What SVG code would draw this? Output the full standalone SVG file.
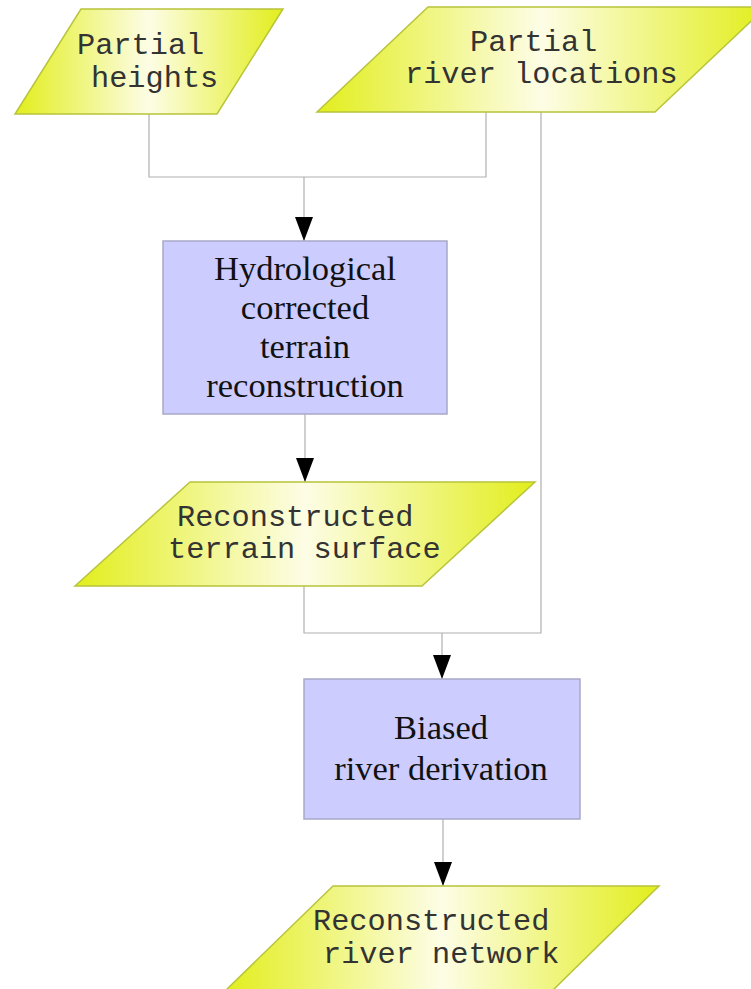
<svg xmlns="http://www.w3.org/2000/svg" width="751" height="989" viewBox="0 0 751 989">
<defs>
<linearGradient id="yg" x1="0" y1="0" x2="1" y2="0">
<stop offset="0" stop-color="#e2ee1c"/>
<stop offset="0.5" stop-color="#fdfde6"/>
<stop offset="1" stop-color="#e2ee1c"/>
</linearGradient>
<marker id="arr" markerWidth="24" markerHeight="18" refX="24" refY="9" orient="auto" markerUnits="userSpaceOnUse" viewBox="0 0 24 18">
<path d="M0,0 L24,9 L0,18 Z" fill="#000"/>
</marker>
</defs>
<style>
.io{fill:url(#yg);stroke:#b8c43a;stroke-width:1.5}
.proc{fill:#ccccff;stroke:#a8a8c8;stroke-width:1.5}
.mono{font-family:"Liberation Mono","Courier New",monospace;font-size:30.3px;fill:#333}
.serif{font-family:"Liberation Serif","Times New Roman",serif;font-size:34.5px;fill:#111;text-anchor:middle}
.ln{fill:none;stroke:#b0b0b0;stroke-width:1.2}
.ar{fill:none;stroke:#b0b0b0;stroke-width:1.2;marker-end:url(#arr)}
</style>
<g id="connectors">
<polyline class="ln" points="149,114 149,177 486,177 486,112"/>
<line class="ar" x1="304" y1="177" x2="304" y2="241"/>
<line class="ar" x1="305" y1="414" x2="305" y2="482"/>
<polyline class="ln" points="541,112 541,633 304,633 304,586"/>
<line class="ar" x1="442" y1="633" x2="442" y2="679"/>
<line class="ar" x1="443" y1="819" x2="443" y2="886"/>
</g>
<g id="partial-heights">
<polygon class="io" points="81,9 283,9 217,114 15,114"/>
<text class="mono" x="77" y="54">Partial</text>
<text class="mono" x="91" y="87">heights</text>
</g>
<g id="partial-river-locations">
<polygon class="io" points="428,7 766,7 655,112 317,112"/>
<text class="mono" x="470" y="51">Partial</text>
<text class="mono" x="405" y="83">river locations</text>
</g>
<g id="hydrological">
<rect class="proc" x="163" y="241" width="284" height="173"/>
<text class="serif" x="305" y="280">Hydrological</text>
<text class="serif" x="305" y="319">corrected</text>
<text class="serif" x="305" y="358">terrain</text>
<text class="serif" x="305" y="397">reconstruction</text>
</g>
<g id="reconstructed-terrain">
<polygon class="io" points="190,482 535,482 422,586 75,586"/>
<text class="mono" x="177" y="526">Reconstructed</text>
<text class="mono" x="168" y="558">terrain surface</text>
</g>
<g id="biased">
<rect class="proc" x="304" y="679" width="276" height="140"/>
<text class="serif" x="441" y="739">Biased</text>
<text class="serif" x="441" y="780">river derivation</text>
</g>
<g id="reconstructed-river">
<polygon class="io" points="333,886 659,886 551,992 224,992"/>
<text class="mono" x="313" y="930">Reconstructed</text>
<text class="mono" x="323" y="963">river network</text>
</g>
</svg>
